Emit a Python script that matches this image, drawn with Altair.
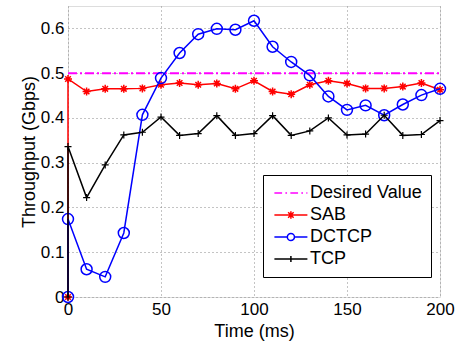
import altair as alt
import pandas as pd

time_ms = [0, 0, 10, 20, 30, 40, 50, 60, 70, 80, 90, 100, 110, 120, 130, 140, 150, 160, 170, 180, 190, 200]
sab = [0, 0.487, 0.459, 0.465, 0.465, 0.466, 0.474, 0.478, 0.474, 0.477, 0.465, 0.483,
       0.459, 0.453, 0.474, 0.483, 0.477, 0.466, 0.466, 0.470, 0.478, 0.463]
dctcp = [0, 0.174, 0.062, 0.045, 0.143, 0.407, 0.489, 0.545, 0.587, 0.599, 0.597, 0.617,
         0.559, 0.525, 0.495, 0.448, 0.418, 0.428, 0.406, 0.430, 0.451, 0.465]
tcp = [0, 0.336, 0.222, 0.295, 0.362, 0.368, 0.402, 0.361, 0.365, 0.405, 0.361, 0.365,
       0.405, 0.361, 0.371, 0.400, 0.362, 0.364, 0.406, 0.361, 0.363, 0.394]
desired_x = [0, 200]
desired_y = [0.5, 0.5]

series_names = ["Desired Value", "SAB", "DCTCP", "TCP"]
series_colors = ["#FF00FF", "#FF0000", "#0000FF", "#000000"]

rows = []
for name, vals in [("SAB", sab), ("DCTCP", dctcp), ("TCP", tcp)]:
    for i, (t, v) in enumerate(zip(time_ms, vals)):
        rows.append({"series": name, "t": t, "v": v, "idx": i})
for i, (t, v) in enumerate(zip(desired_x, desired_y)):
    rows.append({"series": "Desired Value", "t": t, "v": v, "idx": i})
df = pd.DataFrame(rows)

FONT = "Liberation Sans"

x_enc = alt.X("t:Q", scale=alt.Scale(domain=[0, 200], nice=False),
              axis=alt.Axis(values=[0, 50, 100, 150, 200], title="Time (ms)",
                            labelFontSize=17, titleFontSize=18, labelFont=FONT, titleFont=FONT,
                            titleFontWeight="normal", labelPadding=4, titlePadding=5,
                            labelFlush=False,
                            ticks=False, domain=False, grid=True,
                            gridDash=[1, 3], gridColor="#888888", labelColor="black", titleColor="black"))
y_enc = alt.Y("v:Q", scale=alt.Scale(domain=[0, 0.65], nice=False),
              axis=alt.Axis(values=[0, 0.1, 0.2, 0.3, 0.4, 0.5, 0.6], format="~g",
                            title="Throughput (Gbps)",
                            labelFontSize=17, titleFontSize=18, labelFont=FONT, titleFont=FONT,
                            titleFontWeight="normal", labelPadding=4, titlePadding=2,
                            labelFlush=False,
                            ticks=False, domain=False, grid=True,
                            gridDash=[1, 3], gridColor="#888888", labelColor="black", titleColor="black"))

base = alt.Chart(df)

def line_layer(name, color, width=1.5, dash=None):
    kw = dict(color=color, strokeWidth=width, clip=False)
    if dash:
        kw["strokeDash"] = dash
    return base.transform_filter(alt.datum.series == name).mark_line(**kw).encode(
        x=x_enc, y=y_enc, order=alt.Order("idx:Q"))

asterisk = "M-1,0H1M0,-1V1M-0.7,-0.7L0.7,0.7M-0.7,0.7L0.7,-0.7"
plus = "M-1,0H1M0,-1V1"

def point_layer(name, color, shape, size, width=1.5):
    return base.transform_filter(alt.datum.series == name).mark_point(
        shape=shape, size=size, filled=False, color=color, strokeWidth=width,
        opacity=1, clip=False).encode(x=x_enc, y=y_enc)

legend_paths = [
    "M-1.2,0H0.2M0.8,0H1.1M1.7,0H3.1M3.7,0H4.0M4.6,0H4.8",
    "M-1.2,0H4.8M1.8,-0.7V0.7M1.3,-0.5L2.3,0.5M1.3,0.5L2.3,-0.5M1.1,0H2.5",
    "M-1.2,0H1.15M2.45,0H4.8M1.15,0A0.65,0.65 0 1,1 2.45,0A0.65,0.65 0 1,1 1.15,0",
    "M-1.2,0H4.8M1.8,-0.55V0.55",
]

leg = dict(title=None, orient="none", legendX=195, legendY=169,
           strokeColor="black", fillColor="white", padding=9,
           labelFontSize=18, labelFont=FONT, labelColor="black",
           symbolSize=121, symbolStrokeWidth=1.5,
           labelOffset=20, rowPadding=4)

legend_layer = base.transform_filter("false").mark_point(filled=False, opacity=1).encode(
    x=x_enc, y=y_enc,
    color=alt.Color("series:N", scale=alt.Scale(domain=series_names, range=series_colors),
                    legend=alt.Legend(**leg)),
    shape=alt.Shape("series:N", scale=alt.Scale(domain=series_names, range=legend_paths),
                    legend=alt.Legend(**leg)),
)

chart = alt.layer(
    line_layer("Desired Value", "#FF00FF", 2, [9, 3, 2, 3]),
    line_layer("SAB", "#FF0000"),
    point_layer("SAB", "#FF0000", asterisk, 64, 1.5),
    line_layer("DCTCP", "#0000FF"),
    point_layer("DCTCP", "#0000FF", "circle", 120, 1.5),
    line_layer("TCP", "#000000"),
    point_layer("TCP", "#000000", plus, 49, 1.2),
    legend_layer,
).properties(
    width=372, height=291,
    autosize=alt.AutoSizeParams(type="none"),
    padding={"left": 68, "top": 6, "right": 21, "bottom": 45},
).configure_view(stroke="black", strokeWidth=1.2).configure(background="white")

chart.save("out.html", embed_options={"renderer": "svg", "actions": False})
